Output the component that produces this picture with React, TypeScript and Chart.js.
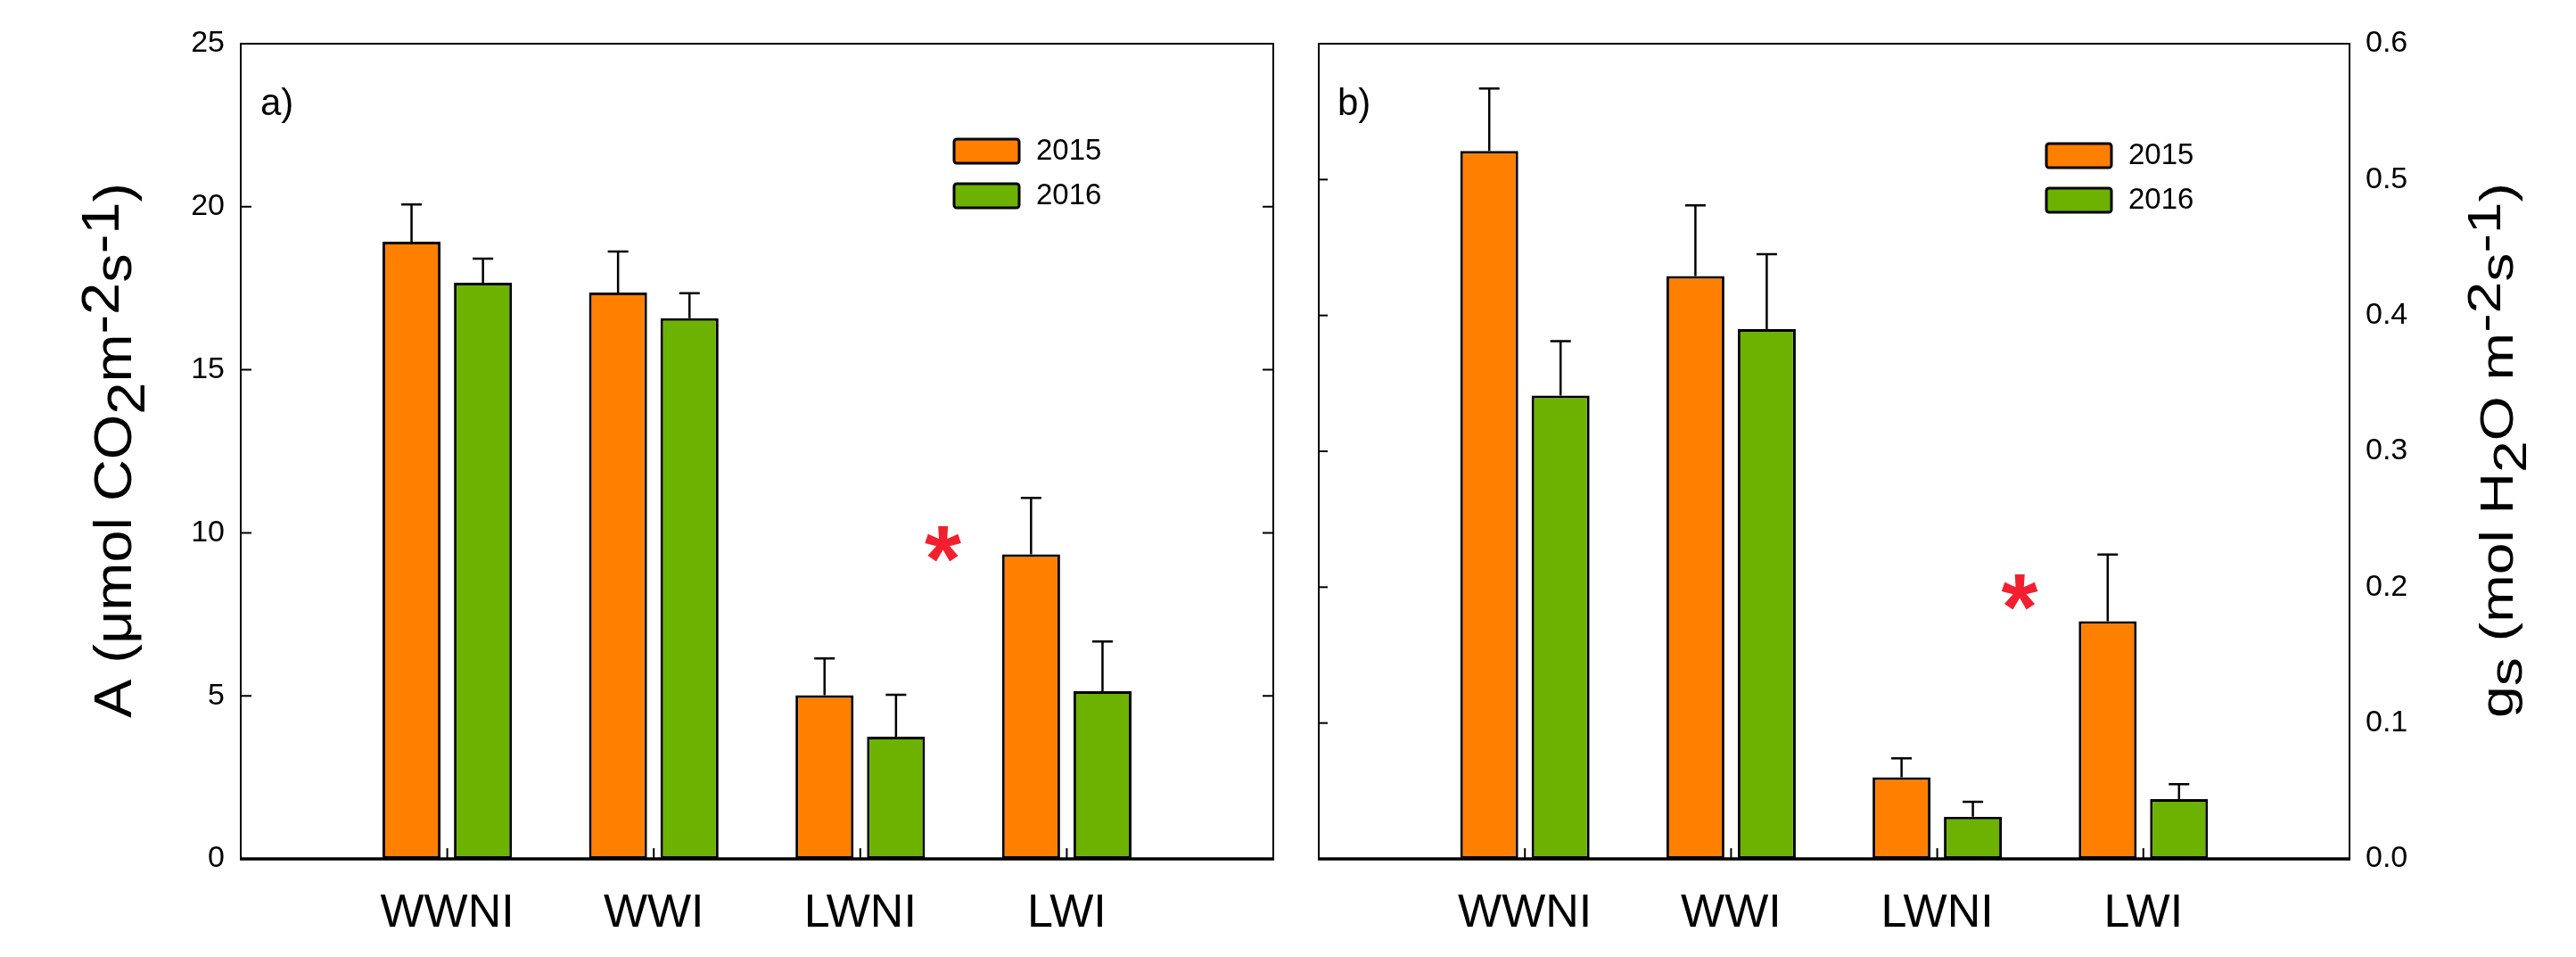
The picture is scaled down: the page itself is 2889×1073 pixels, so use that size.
import React, { useEffect, useRef } from "react";
import { Chart, registerables } from "chart.js";

Chart.register(...registerables);

// ---------- data ----------
const categories = ["WWNI", "WWI", "LWNI", "LWI"];
const seriesLabels = ["2015", "2016"];

const a2015 = [18.93, 17.37, 5.02, 9.34];
const a2015Err = [1.14, 1.26, 1.13, 1.73];
const a2016 = [17.67, 16.58, 3.75, 5.14];
const a2016Err = [0.74, 0.77, 1.28, 1.53];

const gs2015 = [0.521, 0.429, 0.06, 0.175];
const gs2015Err = [0.046, 0.052, 0.014, 0.049];
const gs2016 = [0.341, 0.39, 0.031, 0.044];
const gs2016Err = [0.04, 0.055, 0.011, 0.011];

const aAxis = { min: 0, max: 25, step: 5 };
const gsAxis = { min: 0, max: 0.6, step: 0.1 };

// significance marks (category index position, value)
const aStar = { x: 3.4, y: 9.65 };
const gsStar = { x: 3.4, y: 0.196 };

// ---------- style ----------
const FONT = '"Liberation Sans", Arial, Helvetica, sans-serif';
const ORANGE = "#ff7f00";
const GREEN = "#6db200";
const RED = "#f2202e";
const colors = [ORANGE, GREEN];

const padLabels = ["", ...categories, ""];
const pad = (arr: number[]) => [null, ...arr, null];

type Seg = { t: string; d: number };

function drawRotatedTitle(
  ctx: CanvasRenderingContext2D,
  segs: Seg[],
  baselineX: number,
  centerY: number,
  size: number,
  length: number
) {
  ctx.save();
  ctx.font = `${size}px ${FONT}`;
  const widths = segs.map((s) => ctx.measureText(s.t).width);
  const total = widths.reduce((a, b) => a + b, 0);
  const sx = length / total;
  ctx.translate(baselineX, centerY);
  ctx.rotate(-Math.PI / 2);
  ctx.scale(sx, 1);
  ctx.fillStyle = "#000";
  ctx.textBaseline = "alphabetic";
  ctx.textAlign = "left";
  let x = -total / 2;
  segs.forEach((s, i) => {
    ctx.fillText(s.t, x, s.d);
    x += widths[i];
  });
  ctx.restore();
}

type DecorOpts = {
  id: string;
  star: { x: number; y: number };
  leftTicks: boolean;
  rightTicks: boolean;
  leftTickLen: number;
  legendX: number;
  legendY: number;
  panelLabel: string;
  panelLabelX: number;
  title: Seg[];
  titleX: number;
  titleSize: number;
};

function makeDecor(o: DecorOpts) {
  return {
    id: o.id,
    afterDatasetsDraw(chart: any) {
      const { ctx, chartArea: ca, scales } = chart;
      const xs = scales.x;
      const ys = scales.y;
      ctx.save();
      // error bars
      ctx.strokeStyle = "#000";
      ctx.lineWidth = 2.5;
      chart.data.datasets.forEach((ds: any, i: number) => {
        const meta = chart.getDatasetMeta(i);
        meta.data.forEach((bar: any, j: number) => {
          const v = ds.data[j];
          const e = ds.errors[j];
          if (v == null || e == null) return;
          const yTop = ys.getPixelForValue(v + e);
          ctx.beginPath();
          ctx.moveTo(bar.x, bar.y);
          ctx.lineTo(bar.x, yTop);
          ctx.moveTo(bar.x - 11.5, yTop);
          ctx.lineTo(bar.x + 11.5, yTop);
          ctx.stroke();
        });
      });

      // significance asterisk
      const sx = xs.getPixelForValue(o.star.x);
      const sy = ys.getPixelForValue(o.star.y);
      ctx.font = `bold 100px ${FONT}`;
      let m = ctx.measureText("*");
      const h100 = m.actualBoundingBoxAscent + m.actualBoundingBoxDescent;
      const fs = (100 * 40) / h100;
      ctx.font = `bold ${fs}px ${FONT}`;
      m = ctx.measureText("*");
      ctx.fillStyle = RED;
      ctx.textAlign = "left";
      ctx.textBaseline = "alphabetic";
      const gw = m.actualBoundingBoxLeft + m.actualBoundingBoxRight;
      const gh = m.actualBoundingBoxAscent + m.actualBoundingBoxDescent;
      ctx.fillText(
        "*",
        sx - gw / 2 + m.actualBoundingBoxLeft,
        sy + gh / 2 - m.actualBoundingBoxDescent
      );

      // frame
      ctx.strokeStyle = "#000";
      ctx.lineWidth = 2;
      ctx.beginPath();
      ctx.moveTo(ca.left, ca.bottom);
      ctx.lineTo(ca.left, ca.top);
      ctx.lineTo(ca.right, ca.top);
      ctx.lineTo(ca.right, ca.bottom);
      ctx.stroke();
      ctx.lineWidth = 3.5;
      ctx.beginPath();
      ctx.moveTo(ca.left - 1, ca.bottom);
      ctx.lineTo(ca.right + 1, ca.bottom);
      ctx.stroke();

      // y ticks (inward)
      ctx.lineWidth = 2;
      ys.ticks.forEach((t: any) => {
        if (t.value <= ys.min || t.value >= ys.max) return;
        const py = ys.getPixelForValue(t.value);
        ctx.beginPath();
        if (o.leftTicks) {
          ctx.moveTo(ca.left, py);
          ctx.lineTo(ca.left + o.leftTickLen, py);
        }
        if (o.rightTicks) {
          ctx.moveTo(ca.right, py);
          ctx.lineTo(ca.right - 12, py);
        }
        ctx.stroke();
      });

      // x ticks (inward, at category centres)
      for (let i = 1; i <= categories.length; i++) {
        const px = xs.getPixelForValue(i);
        ctx.beginPath();
        ctx.moveTo(px, ca.bottom);
        ctx.lineTo(px, ca.bottom - 12);
        ctx.stroke();
      }
      ctx.restore();
    },
    afterDraw(chart: any) {
      const { ctx } = chart;
      ctx.save();
      // legend
      chart.data.datasets.forEach((ds: any, i: number) => {
        const bx = o.legendX;
        const by = o.legendY + i * 50;
        ctx.beginPath();
        (ctx as any).roundRect(bx, by, 73, 27, 3);
        ctx.fillStyle = ds.backgroundColor;
        ctx.fill();
        ctx.lineWidth = 3;
        ctx.strokeStyle = "#000";
        ctx.stroke();
        ctx.fillStyle = "#000";
        ctx.font = `33px ${FONT}`;
        ctx.textAlign = "left";
        ctx.textBaseline = "middle";
        ctx.fillText(ds.label, bx + 92, by + 14);
      });
      // panel label
      ctx.font = `42px ${FONT}`;
      ctx.textBaseline = "alphabetic";
      ctx.fillStyle = "#000";
      ctx.fillText(o.panelLabel, o.panelLabelX, 129);
      ctx.restore();
      // axis title
      drawRotatedTitle(ctx, o.title, o.titleX, 505, o.titleSize, 600);
    },
  };
}

function makeDatasets(v15: number[], e15: number[], v16: number[], e16: number[]) {
  const vals = [v15, v16];
  const errs = [e15, e16];
  return seriesLabels.map((lab, i) => ({
    label: lab,
    data: pad(vals[i]),
    errors: pad(errs[i]),
    backgroundColor: colors[i],
    borderColor: "#000",
    borderWidth: 3,
    borderSkipped: false,
    categoryPercentage: 0.692,
    barPercentage: 0.8125,
  }));
}

function xScale() {
  return {
    type: "category",
    offset: false,
    grid: { display: false, drawTicks: true, tickLength: 30 },
    border: { display: false },
    ticks: {
      autoSkip: false,
      maxRotation: 0,
      minRotation: 0,
      color: "#000",
      font: { family: FONT, size: 52 },
      padding: 0,
    },
    afterFit: (s: any) => {
      s.height = 110;
    },
  };
}

function leftConfig(): any {
  return {
    type: "bar",
    data: {
      labels: padLabels,
      datasets: makeDatasets(a2015, a2015Err, a2016, a2016Err),
    },
    options: {
      responsive: false,
      animation: false,
      devicePixelRatio: 1,
      layout: { padding: { top: 49, right: 22, left: 0, bottom: 0 } },
      plugins: { legend: { display: false }, tooltip: { enabled: false } },
      scales: {
        x: xScale(),
        y: {
          position: "left",
          min: aAxis.min,
          max: aAxis.max,
          grid: { display: false, drawTicks: false },
          border: { display: false },
          ticks: {
            stepSize: aAxis.step,
            color: "#000",
            font: { family: FONT, size: 34 },
            padding: 18,
          },
          afterFit: (s: any) => {
            s.width = 270;
          },
        },
      },
    },
    plugins: [
      makeDecor({
        id: "decorA",
        star: aStar,
        leftTicks: true,
        rightTicks: true,
        leftTickLen: 12,
        legendX: 1070,
        legendY: 156,
        panelLabel: "a)",
        panelLabelX: 292,
        title: [
          { t: "A (", d: 0 },
          { t: "μ", d: 0 },
          { t: "mol CO", d: 0 },
          { t: "2", d: 15 },
          { t: "m", d: 0 },
          { t: "-2", d: -14 },
          { t: "s", d: 0 },
          { t: "-1", d: -14 },
          { t: ")", d: 0 },
        ],
        titleX: 147,
        titleSize: 60,
      }),
    ],
  };
}

function rightConfig(): any {
  return {
    type: "bar",
    data: {
      labels: padLabels,
      datasets: makeDatasets(gs2015, gs2015Err, gs2016, gs2016Err),
    },
    options: {
      responsive: false,
      animation: false,
      devicePixelRatio: 1,
      layout: { padding: { top: 49, right: 0, left: 29, bottom: 0 } },
      plugins: { legend: { display: false }, tooltip: { enabled: false } },
      scales: {
        x: xScale(),
        y: {
          position: "right",
          min: gsAxis.min,
          max: gsAxis.max,
          grid: { display: false, drawTicks: false },
          border: { display: false },
          ticks: {
            stepSize: gsAxis.step,
            color: "#000",
            font: { family: FONT, size: 34 },
            padding: 18,
            callback: (v: any) => Number(v).toFixed(1),
          },
          afterFit: (s: any) => {
            s.width = 254;
          },
        },
      },
    },
    plugins: [
      makeDecor({
        id: "decorB",
        star: gsStar,
        leftTicks: true,
        rightTicks: false,
        leftTickLen: 10,
        legendX: 845,
        legendY: 161,
        panelLabel: "b)",
        panelLabelX: 50,
        title: [
          { t: "g", d: 0 },
          { t: "s", d: 10 },
          { t: " (mol H", d: 0 },
          { t: "2", d: 15 },
          { t: "O m", d: 0 },
          { t: "-2", d: -14 },
          { t: "s", d: 0 },
          { t: "-1", d: -14 },
          { t: ")", d: 0 },
        ],
        titleX: 1368,
        titleSize: 52,
      }),
    ],
  };
}

function ChartCanvas({ make, left, width }: { make: () => any; left: number; width: number }) {
  const ref = useRef<HTMLCanvasElement | null>(null);
  useEffect(() => {
    if (!ref.current) return;
    const chart = new Chart(ref.current, make());
    return () => chart.destroy();
  }, [make]);
  return (
    <canvas
      ref={ref}
      width={width}
      height={1073}
      style={{ position: "absolute", left, top: 0, width, height: 1073, display: "block" }}
    />
  );
}

export default function App() {
  return (
    <div
      style={{
        position: "absolute",
        left: 0,
        top: 0,
        width: 2889,
        height: 1073,
        background: "#fff",
        overflow: "hidden",
      }}
    >
      <ChartCanvas make={leftConfig} left={0} width={1450} />
      <ChartCanvas make={rightConfig} left={1450} width={1439} />
    </div>
  );
}
